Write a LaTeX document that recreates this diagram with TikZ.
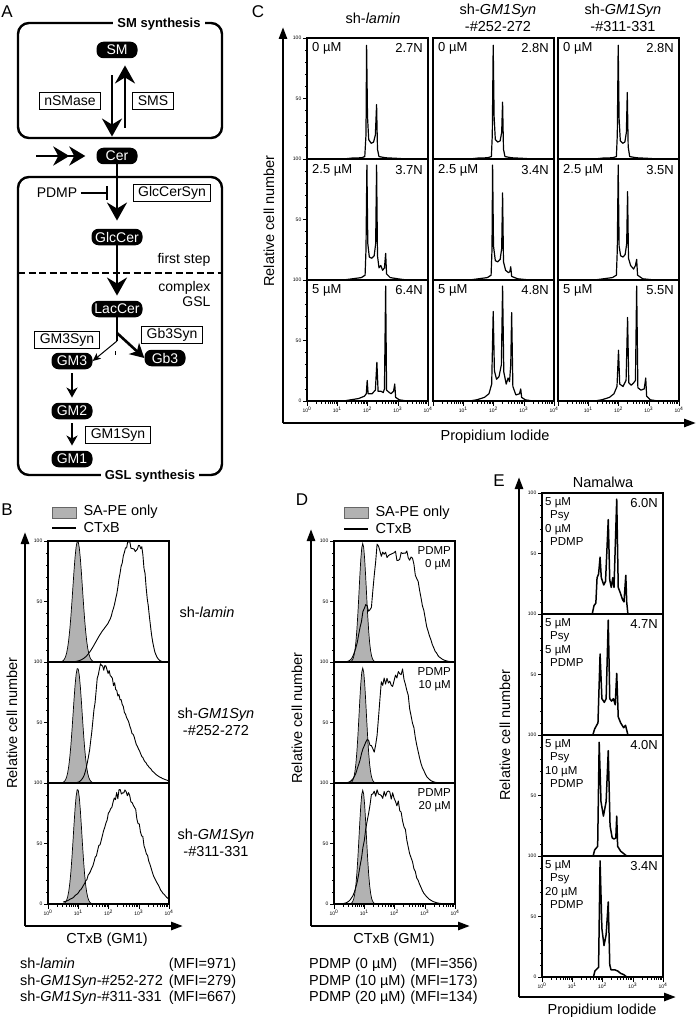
\documentclass[tikz,border=0pt]{standalone}
\usepackage{fontspec}
\setmainfont{Liberation Sans}
\usetikzlibrary{arrows.meta, positioning}

\newcommand{\panelfont}{\fontsize{17}{17}\selectfont}
\newcommand{\labfont}{\fontsize{14.5}{16.5}\selectfont}
\newcommand{\pathfont}{\fontsize{14}{15}\selectfont}
\newcommand{\dosefont}{\fontsize{13}{14}\selectfont}
\newcommand{\smfont}{\fontsize{11.5}{13.5}\selectfont}
\newcommand{\tickfont}{\fontsize{5}{5}\selectfont}

% left ticks of one histogram (units: decades, percent)
\newcommand{\cellticks}{%
  \foreach \t in {10,20,30,40,60,70,80,90} \draw[tickmark] (0,\t) -- ++(-2.5pt,0pt);
  \foreach \t in {0,50,100} \draw[tickmark] (0,\t) -- ++(-4.5pt,0pt);
  \node[ticklabel] (ytop) at ([xshift=-5pt]0,100) {100};
  \node[ticklabel] (ymid) at ([xshift=-5pt]0,50) {50};
}
% bottom log ticks, labels from decade #1
\newcommand{\logticks}[1]{%
  \foreach \d in {0,...,3} {\foreach \m in {2,...,9} \draw[tickmark] ({\d+log10(\m)},0) -- ++(0pt,-2.5pt);}
  \foreach \d in {0,...,4} \draw[tickmark] (\d,0) -- ++(0pt,-4.5pt);
  \foreach \d in {#1,...,4} \node[ticklabel, anchor=north] (xdec\d) at ([yshift=-5pt]\d,0) {10\textsuperscript{\d}};
}

\begin{document}
\begin{tikzpicture}[x=1pt, y=-1pt,
    declare function={sqd(\u)=(\u)*(\u);
      gs(\x,\cc,\ww)=exp(-min(sqd((\x-\cc)/\ww)/2,12));
      sk(\x,\cc,\wa,\wb)=ifthenelse(\x<\cc, gs(\x,\cc,\wa), gs(\x,\cc,\wb));
      pl(\x,\ua,\ub,\wa,\wb)=ifthenelse(\x<\ua, gs(\x,\ua,\wa), ifthenelse(\x>\ub, gs(\x,\ub,\wb), 1));},
    lipid/.style={fill=black, text=white, rounded corners=7pt, minimum width=41pt,
      minimum height=16.5pt, inner sep=1pt, font=\pathfont},
    enzyme/.style={draw, line width=1.1pt, inner xsep=5pt, inner ysep=1pt,
      minimum height=17pt, font=\pathfont},
    compartment/.style={draw, line width=2.4pt, rounded corners=11pt},
    boxtitle/.style={fill=white, inner xsep=4pt, inner ysep=1pt, font={\fontsize{13}{13}\selectfont\bfseries}},
    pathway/.style={line width=2.6pt, -{Stealth[length=18pt, width=20pt, inset=6pt]}},
    influx/.style={line width=2.6pt, -{Stealth[length=16pt, width=19pt, inset=5pt] Stealth[length=16pt, width=19pt, inset=5pt]}},
    gbflow/.style={line width=2.6pt, -{Stealth[length=14pt, width=15pt, inset=4pt]}},
    thinflow/.style={line width=1pt, -{Stealth[length=8pt, width=7pt, inset=2pt]}},
    seqflow/.style={line width=2pt, -{Stealth[length=10pt, width=11pt, inset=3pt]}},
    inhibit/.style={line width=1.8pt, -{Bar[width=13pt, line width=2pt]}},
    plotaxis/.style={line width=2.6pt, -{Triangle[length=12pt, width=8pt]}},
    histo/.style 2 args={shift={(#1,#2)}, x=30.25pt, y=1.21pt},
    plotframe/.style={line width=1.1pt},
    tickmark/.style={line width=0.5pt},
    ticklabel/.style={font=\tickfont, anchor=east, inner sep=0.5pt},
    trace/.style={line width=0.9pt, line join=round},
    spikes/.style={line width=1.2pt, line join=round},
    negctrl/.style={fill=black!30, draw=black, line width=0.7pt},
    panel/.style={font=\panelfont},
    caption/.style={font=\labfont},
    dose/.style={font=\dosefont, inner sep=1pt},
    treat/.style={font=\smfont, inner sep=1pt}
  ]
  \useasboundingbox (0,0) rectangle (697,1019);
  \pgfmathsetseed{4}

  % ---- A: pathway ----
  \node[panel] (tagA) at (7,12) {A};
  \draw[compartment] (18,23) rectangle (222,138);
  \draw[compartment] (18,177) rectangle (222,475);
  \node[boxtitle] (smtitle) at (159,24) {SM synthesis};
  \node[boxtitle] (gsltitle) at (150,476) {GSL synthesis};

  \node[lipid] (SM) at (117,50) {SM};
  \node[lipid] (Cer) at (117,156) {Cer};
  \node[lipid, minimum width=51pt] (GlcCer) at (117,237) {GlcCer};
  \node[lipid, minimum width=51pt] (LacCer) at (117,309) {LacCer};
  \node[lipid] (GM3) at (72,361) {GM3};
  \node[lipid] (Gb3) at (165,358) {Gb3};
  \node[lipid] (GM2) at (72,411) {GM2};
  \node[lipid] (GM1) at (72,459) {GM1};

  \node[enzyme] (nSMase) at (70,101) {nSMase};
  \node[enzyme] (SMS) at (153,101) {SMS};
  \node[enzyme] (GlcCerSyn) at (172,193) {GlcCerSyn};
  \node[enzyme] (GM3Syn) at (67,340) {GM3Syn};
  \node[enzyme] (Gb3Syn) at (172,335) {Gb3Syn};
  \node[enzyme] (GM1Syn) at (118,435) {GM1Syn};
  \node[font=\pathfont] (PDMP) at (57,193) {PDMP};
  \node[font=\pathfont, anchor=east] (firststep) at (214,260) {first step};
  \node[font=\pathfont, anchor=east, align=right] (complexGSL) at (214,294) {complex\\GSL};
  \draw[line width=2.2pt, dash pattern=on 7pt off 3.5pt] (18,273) -- (222,273);

  \draw[pathway, shorten <=17pt, shorten >=11pt] ([xshift=-5pt]SM.south) -- ([xshift=-5pt]Cer.north);
  \draw[pathway, shorten <=20pt, shorten >=7pt] ([xshift=8pt]Cer.north) -- ([xshift=8pt]SM.south);
  \coordinate (influxstart) at (36,156);
  \draw[influx, shorten >=11pt] (influxstart) -- (Cer.west);
  \draw[pathway, shorten >=8pt] (Cer) -- (GlcCer);
  \coordinate (block) at (108,193);
  \draw[inhibit] (PDMP.east) -- (block);
  \draw[pathway, shorten >=5pt] (GlcCer) -- (LacCer);
  \coordinate (fork) at (117,333);
  \coordinate (forkend) at (117,341);
  \draw[line width=2.6pt] (LacCer.south) -- (forkend);
  \draw[gbflow] (fork) -- (Gb3.west);
  \draw[thinflow] (forkend) -- (GM3.east);
  \draw[line width=0.7pt] (115,351) -- (115,355);
  \draw[seqflow, shorten <=4pt, shorten >=5pt] (GM3) -- (GM2);
  \draw[seqflow, shorten <=4pt, shorten >=5pt] (GM2) -- (GM1);

  % ---- B: CTxB in knock-down cells ----
  \node[panel] (tagB) at (7,510) {B};
  \node[draw=black!60, fill=black!30, line width=0.6pt, minimum width=24pt, minimum height=11pt, inner sep=0pt] (keyshadeB) at (64,512.5) {};
  \node[caption, anchor=west] (keyshadetextB) at (80,512) {SA-PE only};
  \coordinate (keylineB) at (52,528);
  \draw[line width=1.8pt] (keylineB) -- ++(24,0);
  \node[caption, anchor=west] (keylinetextB) at (80,528) {CTxB};

  \begin{scope}[histo={48}{662}]
    \filldraw[negctrl] (0.3,0) -- plot[domain=0.3:1.7, samples=41] (\x,{100*gs(\x,0.98,0.16)}) -- (1.7,0) -- cycle;
    \draw[trace] plot[domain=0.8:4, samples=90] (\x,{94*pl(\x,2.65,3.05,0.3,0.22)*(1+0.04*rand)+25*gs(\x,1.9,0.35)});
    \draw[plotframe] (0,0) rectangle (4,100);
    \cellticks
  \end{scope}
  \begin{scope}[histo={48}{783}]
    \filldraw[negctrl] (0.3,0) -- plot[domain=0.3:1.7, samples=41] (\x,{95*gs(\x,0.98,0.15)}) -- (1.7,0) -- cycle;
    \draw[trace] plot[domain=0.8:4, samples=90] (\x,{95*sk(\x,1.75,0.24,0.8)*(1+0.04*rand)});
    \draw[plotframe] (0,0) rectangle (4,100);
    \cellticks
  \end{scope}
  \begin{scope}[histo={48}{904}]
    \filldraw[negctrl] (0.3,0) -- plot[domain=0.3:1.7, samples=41] (\x,{95*gs(\x,0.98,0.14)}) -- (1.7,0) -- cycle;
    \draw[trace] plot[domain=0.5:4, samples=90] (\x,{94*sk(\x,2.5,0.7,0.6)*(1+0.04*rand)});
    \draw[plotframe] (0,0) rectangle (4,100);
    \cellticks
    \logticks{0}
    \node[ticklabel] (yzeroB) at ([xshift=-5pt]0,0) {0};
  \end{scope}
  \coordinate (originB) at (25,926);
  \draw[plotaxis] (originB) -- (25,532);
  \draw[plotaxis] (originB) -- (183,926);
  \node[caption, rotate=90] (ylabB) at (12,723) {Relative cell number};
  \node[caption] (xlabB) at (107,940) {CTxB (GM1)};
  \node[caption] (rowB1) at (207,612) {sh-\textit{lamin}};
  \node[caption, align=center] (rowB2) at (216,722) {sh-\textit{GM1Syn}\\-\#252-272};
  \node[caption, align=center] (rowB3) at (216,843) {sh-\textit{GM1Syn}\\-\#311-331};
  \node[caption, anchor=west, inner sep=0pt] (mfiB) at (20,982) {\begin{tabular}{@{}l@{\hspace{6pt}}l@{}}
    sh-\textit{lamin} & (MFI=971)\\
    sh-\textit{GM1Syn}-\#252-272 & (MFI=279)\\
    sh-\textit{GM1Syn}-\#311-331 & (MFI=667)
  \end{tabular}};

  % ---- C: DNA content, knock-down cells ----
  \node[panel] (tagC) at (258,12) {C};
  \node[caption] (headC1) at (373,18) {sh-\textit{lamin}};
  \node[caption, align=center] (headC2) at (498,18) {sh-\textit{GM1Syn}\\-\#252-272};
  \node[caption, align=center] (headC3) at (623,18) {sh-\textit{GM1Syn}\\-\#311-331};

  \begin{scope}[histo={307}{159}]
    \draw[spikes] plot coordinates {(1.2,0) (1.5,0.8) (1.8,1) (1.91,2) (1.95,20) (1.97,94) (2.0,35) (2.04,16) (2.12,13) (2.2,14) (2.26,20) (2.3,45) (2.33,8) (2.38,2) (2.6,1) (3.0,0.5) (3.3,0)};
    \draw[plotframe] (0,0) rectangle (4,100);
    \cellticks
  \end{scope}
  \begin{scope}[histo={433}{159}]
    \draw[spikes] plot coordinates {(1.2,0) (1.5,0.8) (1.8,1) (1.93,2) (1.96,20) (1.99,94) (2.02,35) (2.06,16) (2.14,14) (2.22,15) (2.27,22) (2.3,47) (2.33,8) (2.38,2) (2.6,1) (3.0,0.5) (3.3,0)};
    \draw[plotframe] (0,0) rectangle (4,100);
  \end{scope}
  \begin{scope}[histo={558}{159}]
    \draw[spikes] plot coordinates {(1.2,0) (1.5,0.8) (1.8,1) (1.93,2) (1.96,20) (1.99,94) (2.02,33) (2.06,15) (2.14,13) (2.21,14) (2.26,22) (2.29,55) (2.32,10) (2.37,2) (2.6,1) (3.0,0.5) (3.3,0)};
    \draw[plotframe] (0,0) rectangle (4,100);
  \end{scope}
  \begin{scope}[histo={307}{280}]
    \draw[spikes] plot coordinates {(1.2,0) (1.5,1) (1.8,2) (1.92,4) (1.95,25) (1.98,95) (2.01,30) (2.06,19) (2.14,18) (2.22,20) (2.27,30) (2.3,95) (2.33,20) (2.38,10) (2.44,12) (2.5,8) (2.56,10) (2.6,22) (2.63,5) (2.75,2) (3.0,1) (3.3,0)};
    \draw[plotframe] (0,0) rectangle (4,100);
    \cellticks
  \end{scope}
  \begin{scope}[histo={433}{280}]
    \draw[spikes] plot coordinates {(1.2,0) (1.5,1) (1.8,2) (1.92,4) (1.95,25) (1.97,95) (2.0,28) (2.06,16) (2.14,15) (2.22,17) (2.27,26) (2.3,72) (2.33,15) (2.4,8) (2.5,6) (2.54,7) (2.57,11) (2.6,3) (2.8,1) (3.2,0)};
    \draw[plotframe] (0,0) rectangle (4,100);
  \end{scope}
  \begin{scope}[histo={558}{280}]
    \draw[spikes] plot coordinates {(1.2,0) (1.5,1) (1.8,2) (1.93,4) (1.96,25) (1.99,95) (2.02,28) (2.07,20) (2.15,19) (2.22,21) (2.27,30) (2.3,73) (2.33,18) (2.4,12) (2.5,9) (2.56,12) (2.6,17) (2.63,4) (2.8,1) (3.2,0)};
    \draw[plotframe] (0,0) rectangle (4,100);
  \end{scope}
  \begin{scope}[histo={307}{401}]
    \draw[spikes] plot coordinates {(1.2,0) (1.45,1) (1.7,2) (1.9,4) (1.96,6) (1.99,17) (2.02,6) (2.15,6) (2.26,9) (2.31,32) (2.35,8) (2.45,8) (2.52,7) (2.56,10) (2.6,95) (2.63,9) (2.72,7) (2.78,6) (2.86,8) (2.9,14) (2.93,3) (3.05,1) (3.3,0)};
    \draw[plotframe] (0,0) rectangle (4,100);
    \cellticks
    \logticks{0}
    \node[ticklabel] (yzeroC) at ([xshift=-5pt]0,0) {0};
  \end{scope}
  \begin{scope}[histo={433}{401}]
    \draw[spikes] plot coordinates {(1.2,0) (1.45,1) (1.7,3) (1.85,6) (1.94,14) (1.99,74) (2.03,25) (2.1,18) (2.18,20) (2.26,30) (2.3,95) (2.34,24) (2.42,14) (2.48,19) (2.53,16) (2.57,30) (2.6,73) (2.64,12) (2.74,5) (2.86,6) (2.9,10) (2.93,3) (3.05,1) (3.3,0)};
    \draw[plotframe] (0,0) rectangle (4,100);
    \logticks{1}
  \end{scope}
  \begin{scope}[histo={558}{401}]
    \draw[spikes] plot coordinates {(1.2,0) (1.45,1) (1.7,3) (1.85,6) (1.95,12) (2.0,42) (2.04,14) (2.15,12) (2.25,17) (2.3,69) (2.34,15) (2.42,13) (2.5,15) (2.56,17) (2.6,95) (2.64,11) (2.74,9) (2.85,10) (2.9,19) (2.93,4) (3.05,1) (3.3,0)};
    \draw[plotframe] (0,0) rectangle (4,100);
    \logticks{1}
  \end{scope}

  \foreach \col/\cx/\pa/\pb/\pc in {1/307/2.7N/3.7N/6.4N, 2/433/2.8N/3.4N/4.8N, 3/558/2.8N/3.5N/5.5N} {
    \node[dose, anchor=west] (doseA\col) at (\cx+4,48) {0 µM};
    \node[dose, anchor=west] (doseB\col) at (\cx+4,170) {2.5 µM};
    \node[dose, anchor=west] (doseC\col) at (\cx+4,290) {5 µM};
    \node[dose, anchor=east] (ploidyA\col) at (\cx+117,48) {\pa};
    \node[dose, anchor=east] (ploidyB\col) at (\cx+117,170) {\pb};
    \node[dose, anchor=east] (ploidyC\col) at (\cx+117,290) {\pc};
  }
  \coordinate (originC) at (283,423);
  \draw[plotaxis] (originC) -- (283,27);
  \draw[plotaxis] (originC) -- (696,423);
  \node[caption, rotate=90] (ylabC) at (269,221) {Relative cell number};
  \node[caption] (xlabC) at (495,437) {Propidium Iodide};

  % ---- D: CTxB with PDMP ----
  \node[panel] (tagD) at (302,500) {D};
  \node[draw=black!60, fill=black!30, line width=0.6pt, minimum width=24pt, minimum height=11pt, inner sep=0pt] (keyshadeD) at (356,513) {};
  \node[caption, anchor=west] (keyshadetextD) at (372,513) {SA-PE only};
  \coordinate (keylineD) at (344,529);
  \draw[line width=1.8pt] (keylineD) -- ++(24,0);
  \node[caption, anchor=west] (keylinetextD) at (372,529) {CTxB};

  \begin{scope}[histo={334}{662}]
    \filldraw[negctrl] (0.3,0) -- plot[domain=0.3:1.6, samples=41] (\x,{98*gs(\x,0.95,0.12)}) -- (1.6,0) -- cycle;
    \draw[trace] plot[domain=0.3:4, samples=80] (\x,{(45*gs(\x,1.05,0.2)+88*pl(\x,1.45,2.45,0.12,0.42))*(1+0.05*rand)});
    \draw[plotframe] (0,0) rectangle (4,100);
    \cellticks
  \end{scope}
  \begin{scope}[histo={334}{783}]
    \filldraw[negctrl] (0.3,0) -- plot[domain=0.3:1.6, samples=41] (\x,{95*gs(\x,0.95,0.12)}) -- (1.6,0) -- cycle;
    \draw[trace] plot[domain=0.3:4, samples=80] (\x,{(35*gs(\x,1.1,0.22)+82*pl(\x,1.6,2.25,0.12,0.35)+10*gs(\x,2.2,0.12))*(1+0.05*rand)});
    \draw[plotframe] (0,0) rectangle (4,100);
    \cellticks
  \end{scope}
  \begin{scope}[histo={334}{904}]
    \filldraw[negctrl] (0.3,0) -- plot[domain=0.3:1.6, samples=41] (\x,{94*gs(\x,0.95,0.12)}) -- (1.6,0) -- cycle;
    \draw[trace] plot[domain=0.3:4, samples=80] (\x,{90*pl(\x,1.3,1.9,0.3,0.5)*(1+0.05*rand)});
    \draw[plotframe] (0,0) rectangle (4,100);
    \cellticks
    \logticks{0}
    \node[ticklabel] (yzeroD) at ([xshift=-5pt]0,0) {0};
  \end{scope}
  \foreach \r/\conc/\ty in {1/0/545, 2/10/666, 3/20/787}
    \node[treat, anchor=north east, align=right] (pdmpD\r) at (452,\ty) {PDMP\\\conc{} µM};
  \coordinate (originD) at (311,926);
  \draw[plotaxis] (originD) -- (311,529);
  \draw[plotaxis] (originD) -- (470,926);
  \node[caption, rotate=90] (ylabD) at (297,718) {Relative cell number};
  \node[caption] (xlabD) at (394,940) {CTxB (GM1)};
  \node[caption, anchor=west, inner sep=0pt] (mfiD) at (309,982) {\begin{tabular}{@{}l@{\hspace{5pt}}l@{}}
    PDMP (0 µM) & (MFI=356)\\
    PDMP (10 µM) & (MFI=173)\\
    PDMP (20 µM) & (MFI=134)
  \end{tabular}};

  % ---- E: Namalwa ----
  \node[panel] (tagE) at (499,481) {E};
  \node[caption] (titleE) at (603,482) {Namalwa};
  \begin{scope}[histo={542}{614}]
    \draw[spikes, line width=1.5pt] plot coordinates {(1.66,0) (1.72,7) (1.78,9) (1.82,30) (1.87,33) (1.92,47) (1.96,30) (2.04,24) (2.1,27) (2.19,78) (2.24,28) (2.29,22) (2.34,30) (2.38,22) (2.47,95) (2.52,22) (2.58,18) (2.66,12) (2.71,10) (2.77,32) (2.8,10) (2.84,0)};
    \draw[plotframe] (0,0) rectangle (4,100);
    \cellticks
  \end{scope}
  \begin{scope}[histo={542}{735}]
    \draw[spikes, line width=1.5pt] plot coordinates {(1.68,0) (1.74,5) (1.85,10) (1.92,67) (1.98,30) (2.06,27) (2.12,30) (2.19,95) (2.24,30) (2.3,28) (2.36,30) (2.42,25) (2.47,51) (2.52,15) (2.6,10) (2.7,6) (2.76,8) (2.84,0)};
    \draw[plotframe] (0,0) rectangle (4,100);
    \cellticks
  \end{scope}
  \begin{scope}[histo={542}{856}]
    \draw[spikes, line width=1.5pt] plot coordinates {(1.69,0) (1.74,5) (1.84,8) (1.89,94) (1.95,45) (2.03,33) (2.12,45) (2.19,87) (2.25,25) (2.32,15) (2.38,14) (2.44,15) (2.47,33) (2.5,8) (2.6,4) (2.7,2) (2.8,0)};
    \draw[plotframe] (0,0) rectangle (4,100);
    \cellticks
  \end{scope}
  \begin{scope}[histo={542}{977}]
    \draw[spikes, line width=1.5pt] plot coordinates {(1.7,0) (1.75,5) (1.87,8) (1.92,96) (1.98,40) (2.05,26) (2.12,35) (2.19,62) (2.24,10) (2.28,6) (2.4,6) (2.5,5) (2.6,3) (2.7,2) (2.8,0)};
    \draw[plotframe] (0,0) rectangle (4,100);
    \cellticks
    \logticks{0}
    \node[ticklabel] (yzeroE) at ([xshift=-5pt]0,0) {0};
  \end{scope}
  \foreach \r/\conc/\ploidy/\ty in {1/0/6.0N/496, 2/5/4.7N/617, 3/10/4.0N/738, 4/20/3.4N/859} {
    \node[treat, anchor=north west, align=left] (psyE\r) at (544,\ty) {5 µM\\\hspace*{5pt}Psy\\\conc{} µM\\\hspace*{5pt}PDMP};
    \node[dose, anchor=east] (ploidyE\r) at (659,\ty+7) {\ploidy};
  }
  \coordinate (originE) at (519,997);
  \draw[plotaxis] (originE) -- (519,477);
  \draw[plotaxis] (originE) -- (676,997);
  \node[caption, rotate=90] (ylabE) at (505,735) {Relative cell number};
  \node[caption] (xlabE) at (602,1011) {Propidium Iodide};
\end{tikzpicture}
\end{document}
